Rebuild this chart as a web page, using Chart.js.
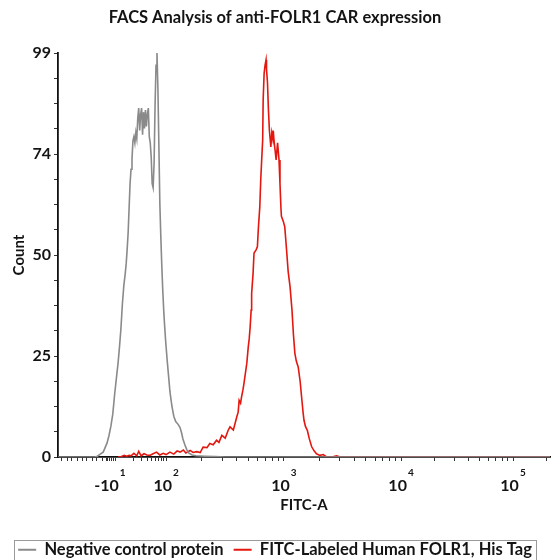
<!DOCTYPE html>
<html><head><meta charset="utf-8">
<script src="https://cdn.jsdelivr.net/npm/chart.js@4.4.0/dist/chart.umd.min.js"></script>
<style>html,body{margin:0;padding:0;overflow:hidden;background:#fff}#wrap{width:556px;height:568px;position:relative}</style>
</head><body><div id="wrap"><canvas id="c"></canvas></div>
<script>
// FITC-A display channels (0-1024 biexponential display) and event counts
const grayX = [0,76,82,88,94,98,102,106,110,114,118,122,125,128,131,134,137,140,142,144,146,148,150,152,154,156,158,160,162,164,166,168,170,172,174,176,178,180,182,184,186,188,190,192,194,196,198,200,202,204,206,208,210,212,214,216,218,220,222,224,227,230,233,237,241,245,250,254,257,260,264,268,272,279,287,306,327,348,1024];
const grayY = [0,0,0.2,0.7,1.2,2.3,3.4,5.2,7.5,10.5,15.5,19.8,23,27,31.5,37.5,42,45,47.5,51,55,61,67,70.5,73,77.5,78.5,77,79.5,78,83,85.5,80,84,85.5,79,84.5,80.5,85,81,84,85.5,78.5,77,73.5,67,66,72,86,96,99,90,76,62,54,47,41,36,32,28.5,24,20,16,12.5,10,8.7,8,7.2,6,4.4,3,1.8,1,0.5,0.3,0.2,0.1,0,0];
const redX = [125,132,138,143,148,152,158,164,168,173,179,185,191,198,205,212,219,225,233,241,248,254,261,266,275,281,289,296,302,310,316,323,330,335,341,348,354,358,365,372,375,377,380,382,385,387,390,393,396,398,400,402,403,406,408,412,415,417,420,422,424,426,427,429,431,433,434,436,438,440,443,445,447,448,450,452,454,457,460,462,464,465,469,472,476,479,483,487,490,493,496,500,504,507,510,512,515,519,523,528,533,538,545,552,559,570,580,587,1024];
const redY = [0,0.1,0.4,0.2,0.4,0.3,0.9,0.3,1.4,0.3,0.8,0.5,0.4,0.8,1.2,0.5,0.9,0.6,1.2,0.7,1.5,1.2,1.7,1.0,1.6,1.1,1.3,1.1,2.4,2.3,3.3,3.0,4.1,3.6,5.3,4.6,6.5,7.4,6.6,9.8,11,13.9,13.2,14.7,16.5,18,20.5,23,27,29,32,36,40,45,50,50.7,51.5,56,61.3,68,73,77.7,87.5,94,96,97.3,95,91.7,85,80,76,79.4,78,80,77,75,72.8,77,72.8,67,61,59,57.7,56.4,50.3,45.5,41.7,36,30,25.4,23.5,22,18.5,14.7,11,9,7.5,6.5,4.5,2.5,1.5,0.8,0.4,0.6,0,0,0.3,0,0];

const yMax = 99;
const yTickLabels = ['0','25','50','74','99'];
const xMajorChannels = [108,225,470,714,947];
const xMajorBase = ['-10','10','10','10','10'];
const xMajorExp = ['1','2','3','4','5'];
const xLinearMinor = [8,19,29,40,50,60,71,81,92,100,104,112,116,120];
const decadeChannels = [127,225,470,714,947,1180];

const FONT = 'Lato';
const TXT = '#141414';

function buildXTicks() {
  const vals = [...xMajorChannels, ...xLinearMinor];
  for (let n = 0; n < decadeChannels.length - 1; n++) {
    for (let k = 2; k <= 9; k++) {
      const v = decadeChannels[n] + (decadeChannels[n+1] - decadeChannels[n]) * Math.log10(k);
      if (v <= 1024) vals.push(v);
    }
  }
  return vals.sort((a,b)=>a-b).map(v=>({value:v}));
}
function buildYTicks() {
  const t = [];
  for (let i = 0; i <= 16; i++) t.push({value: i * yMax / 16});
  return t;
}

const xLabelPlugin = {
  id: 'xlabels',
  afterDraw(chart) {
    const ctx = chart.ctx, xs = chart.scales.x;
    const y0 = xs.top;
    ctx.save();
    ctx.fillStyle = TXT;
    ctx.textBaseline = 'middle';
    ctx.textAlign = 'left';
    xMajorChannels.forEach((ch, i) => {
      const px = xs.getPixelForValue(ch);
      ctx.font = 'bold 16px ' + FONT;
      const wm = ctx.measureText(xMajorBase[i]).width;
      ctx.font = 'bold 10px ' + FONT;
      const ws = ctx.measureText(xMajorExp[i]).width;
      const start = px - (wm + 1 + ws) / 2;
      ctx.font = 'bold 16px ' + FONT;
      ctx.fillText(xMajorBase[i], start, y0 + 29);
      ctx.font = 'bold 10px ' + FONT;
      ctx.fillText(xMajorExp[i], start + wm + 1, y0 + 16);
    });
    ctx.restore();
  }
};

const legendBoxPlugin = {
  id: 'legendbox',
  afterDraw(chart) {
    const hb = chart.legend && chart.legend.legendHitBoxes;
    if (!hb || !hb.length) return;
    const ctx = chart.ctx;
    const first = hb[0], last = hb[hb.length - 1];
    const l = first.left - 4, r = last.left + last.width + 4;
    const t = first.top - 2, b = first.top + first.height + 14;
    ctx.save();
    ctx.strokeStyle = '#9a9a9a';
    ctx.lineWidth = 1;
    ctx.strokeRect(Math.round(l) + 0.5, Math.round(t) + 0.5, Math.round(r - l), Math.round(b - t));
    ctx.restore();
  }
};

new Chart(document.getElementById('c'), {
  type: 'line',
  data: {
    datasets: [
      { label: 'Negative control protein', data: grayX.map((x,i)=>({x, y: grayY[i]})),
        borderColor: '#8a8a8a', backgroundColor: '#8a8a8a', borderWidth: 1.6, pointRadius: 0, tension: 0 },
      { label: 'FITC-Labeled Human FOLR1, His Tag', data: redX.map((x,i)=>({x, y: redY[i]})),
        borderColor: '#e3170f', backgroundColor: '#e3170f', borderWidth: 1.6, pointRadius: 0, tension: 0 }
    ]
  },
  options: {
    responsive: true,
    maintainAspectRatio: false,
    animation: false,
    layout: { padding: { left: 0, right: 6, top: 0, bottom: 0 } },
    plugins: {
      tooltip: { enabled: false },
      title: {
        display: true,
        text: 'FACS Analysis of anti-FOLR1 CAR expression',
        color: TXT,
        font: { family: FONT, size: 16.5, weight: 'bold' },
        padding: { top: 8, bottom: 25.2 }
      },
      legend: {
        display: true,
        position: 'bottom',
        labels: {
          color: TXT,
          font: { family: FONT, size: 16.5, weight: 'bold' },
          boxWidth: 18,
          boxHeight: 2,
          padding: 10,
          generateLabels(chart) {
            return Chart.defaults.plugins.legend.labels.generateLabels(chart)
              .map(l => Object.assign(l, { lineWidth: 0, fillStyle: l.strokeStyle }));
          }
        }
      }
    },
    scales: {
      x: {
        type: 'linear',
        min: 0, max: 1024,
        afterBuildTicks(scale) { scale.ticks = buildXTicks(); },
        afterFit(scale) { scale.height = 74.5; },
        ticks: { autoSkip: false, callback: () => '', maxRotation: 0, padding: 0 },
        grid: { display: true, drawOnChartArea: false, drawTicks: true, tickLength: 4, tickColor: '#333', tickWidth: 1 },
        border: { display: true, color: '#111', width: 1.8 },
        title: { display: true, text: 'FITC-A', color: TXT, font: { family: FONT, size: 15, weight: 'bold' }, padding: { top: 0, bottom: 17.5 } }
      },
      y: {
        type: 'linear',
        min: 0, max: yMax,
        afterBuildTicks(scale) { scale.ticks = buildYTicks(); },
        afterFit(scale) { scale.width = 58; },
        ticks: {
          autoSkip: false, padding: 3, color: TXT,
          font: { family: FONT, size: 16, weight: 'bold' },
          callback: (v, i) => (i % 4 === 0 ? yTickLabels[i / 4] : '')
        },
        grid: { display: true, drawOnChartArea: false, drawTicks: true, tickLength: 4, tickColor: '#333', tickWidth: 1 },
        border: { display: true, color: '#111', width: 1.8 },
        title: { display: true, text: 'Count', color: TXT, font: { family: FONT, size: 15, weight: 'bold' }, padding: { top: 10, bottom: 0 } }
      }
    }
  },
  plugins: [xLabelPlugin, legendBoxPlugin]
});
</script>
</body></html>
